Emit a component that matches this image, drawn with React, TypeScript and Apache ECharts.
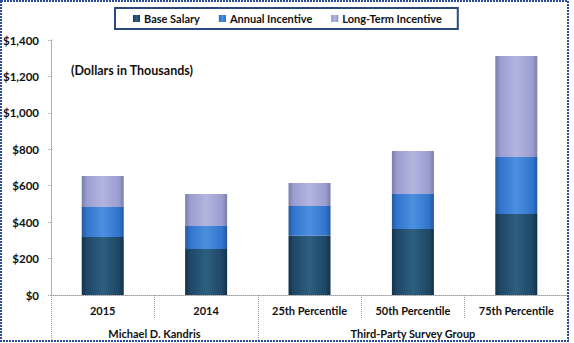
import React, { useEffect, useRef } from "react";
import * as echarts from "echarts";

const categories = ["2015", "2014", "25th Percentile", "50th Percentile", "75th Percentile"];
const groupNames = ["Michael D. Kandris", "Third-Party Survey Group"];
const groupSizes = [2, 3];
const baseSalary = [318, 252, 327, 362, 445];
const annualIncentive = [165, 127, 162, 193, 313];
const longTermIncentive = [170, 176, 126, 236, 554];
const seriesNames = ["Base Salary", "Annual Incentive", "Long-Term Incentive"];

const FONT = "Lato";

function hGrad(edge: string, mid: string, center: string) {
  return new echarts.graphic.LinearGradient(0, 0, 1, 0, [
    { offset: 0, color: edge },
    { offset: 0.12, color: mid },
    { offset: 0.5, color: center },
    { offset: 0.88, color: mid },
    { offset: 1, color: edge },
  ]);
}

export default function App() {
  const ref = useRef<HTMLDivElement>(null);
  useEffect(() => {
    document.body.style.margin = "0";
    const chart = echarts.init(ref.current!, undefined, { renderer: "svg" });

    // half-slot axis for group labels / dividers
    const halfCount = categories.length * 2 + 1;
    const halfData = Array.from({ length: halfCount }, (_, i) => String(i));
    const boundaries: number[] = [0];
    const centers: Record<number, string> = {};
    let start = 0;
    groupSizes.forEach((s, gi) => {
      centers[2 * start + s] = groupNames[gi];
      start += s;
      boundaries.push(2 * start);
    });

    const tickStyle = { color: "#a0a0a0", width: 1, type: "dotted" as const };
    const labelStyle = { fontFamily: FONT, fontWeight: "bold" as const, fontSize: 11, color: "#111" };

    chart.setOption({
      animation: false,
      backgroundColor: "#fff",
      textStyle: { fontFamily: FONT },
      title: {
        text: "(Dollars in Thousands)",
        left: 66,
        top: 59,
        textStyle: { fontFamily: FONT, fontWeight: "bold", fontSize: 12.5, color: "#111" },
      },
      legend: {
        data: seriesNames,
        left: 115,
        top: 8,
        padding: [5, 16, 5, 18],
        itemWidth: 7,
        itemHeight: 7,
        itemGap: 19,
        borderColor: "#2a4a7e",
        borderWidth: 2,
        icon: "rect",
        textStyle: { ...labelStyle, fontSize: 11, padding: [0, 0, 0, -1] },
      },
      graphic: [
        {
          type: "rect",
          shape: { x: 1, y: 1, width: 567, height: 340 },
          style: { fill: "none", stroke: "#2b4c9c", lineWidth: 2, lineDash: [2, 1] },
          z: 100,
        },
      ],
      grid: { left: 51, right: 6, top: 40, bottom: 48 },
      xAxis: [
        {
          type: "category",
          data: categories,
          position: "bottom",
          boundaryGap: true,
          axisLine: { lineStyle: tickStyle },
          axisTick: { show: true, interval: 0, length: 24, lineStyle: tickStyle },
          axisLabel: { ...labelStyle, margin: 10, interval: 0 },
        },
        {
          type: "category",
          data: halfData,
          position: "bottom",
          offset: 0,
          boundaryGap: false,
          axisLine: { show: false },
          axisTick: {
            show: true,
            length: 48,
            interval: (i: number) => boundaries.includes(i),
            lineStyle: tickStyle,
          },
          axisLabel: {
            ...labelStyle,
            margin: 33,
            interval: (i: number) => centers[i] !== undefined,
            formatter: (v: string) => centers[Number(v)] ?? "",
          },
        },
      ],
      yAxis: {
        type: "value",
        min: 0,
        max: 1400,
        interval: 200,
        splitLine: { show: false },
        axisLine: { show: true, lineStyle: tickStyle },
        axisTick: { show: true, length: 4, lineStyle: tickStyle },
        axisLabel: {
          ...labelStyle,
          fontSize: 11.5,
          margin: 12,
          formatter: (v: number) => "$" + v.toLocaleString("en-US"),
        },
      },
      series: [
        {
          name: seriesNames[0],
          type: "bar",
          stack: "total",
          data: baseSalary,
          barWidth: 42,
          itemStyle: { color: hGrad("#14324a", "#1f4766", "#2d5f80") },
        },
        {
          name: seriesNames[1],
          type: "bar",
          stack: "total",
          data: annualIncentive,
          barWidth: 42,
          itemStyle: { color: hGrad("#24589e", "#3274cc", "#4b90e0") },
        },
        {
          name: seriesNames[2],
          type: "bar",
          stack: "total",
          data: longTermIncentive,
          barWidth: 42,
          itemStyle: { color: hGrad("#7b7ea8", "#9a9dcf", "#b3b5e0") },
        },
      ],
    });
    return () => chart.dispose();
  }, []);
  return <div ref={ref} style={{ width: 574, height: 343 }} />;
}
